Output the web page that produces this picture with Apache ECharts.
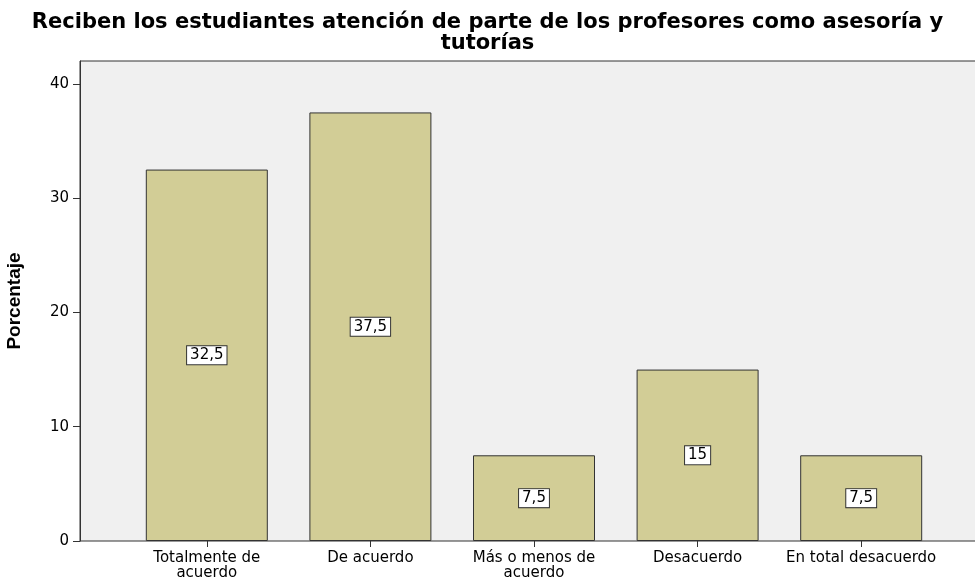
<!DOCTYPE html>
<html>
<head>
<meta charset="utf-8">
<script src="https://cdn.jsdelivr.net/npm/echarts@6/dist/echarts.min.js"></script>
<style>
  html, body { margin: 0; padding: 0; background: #fff; }
  #main { width: 975px; height: 580px; }
</style>
</head>
<body>
<div id="main"></div>
<script>
var categories = ['Totalmente de\nacuerdo', 'De acuerdo', 'Más o menos de\nacuerdo', 'Desacuerdo', 'En total desacuerdo'];
var porcentaje = [32.5, 37.5, 7.5, 15, 7.5];
var yTicks = [0, 10, 20, 30, 40];

var chart = echarts.init(document.getElementById('main'));

function fmt(v) {
    return String(v).replace('.', ',');
}

var option = {
    animation: false,
    backgroundColor: '#ffffff',
    title: {
        text: 'Reciben los estudiantes atención de parte de los profesores como asesoría y\ntutorías',
        left: 'center',
        top: 7,
        textStyle: {
            fontFamily: 'DejaVu Sans',
            fontWeight: 'bold',
            fontSize: 21,
            lineHeight: 21,
            color: '#000'
        }
    },
    grid: [
        {
            left: 80, right: -13, top: 61, bottom: 39,
            outerBoundsMode: 'none',
            show: true,
            backgroundColor: '#f0f0f0',
            borderColor: '#333',
            borderWidth: 1
        },
        {
            left: 125, right: 32, top: 61, bottom: 39,
            outerBoundsMode: 'none'
        }
    ],
    xAxis: [
        { gridIndex: 0, type: 'value', min: 0, max: 1, show: false },
        {
            gridIndex: 1,
            type: 'category',
            data: categories,
            axisLine: { show: false },
            axisTick: { show: true, alignWithLabel: true, length: 6, lineStyle: { color: '#333' } },
            axisLabel: {
                interval: 0,
                margin: 10,
                fontFamily: 'DejaVu Sans',
                fontSize: 15,
                lineHeight: 15,
                color: '#000'
            }
        }
    ],
    yAxis: [
        {
            gridIndex: 0,
            type: 'value',
            min: 0,
            max: 42,
            name: 'Porcentaje',
            nameLocation: 'middle',
            nameGap: 56,
            nameTextStyle: {
                fontFamily: 'Liberation Sans Narrow, Arial',
                fontWeight: 'bold',
                fontSize: 19,
                color: '#000'
            },
            axisLine: { show: true, lineStyle: { color: '#333' } },
            axisTick: { show: true, length: 7, customValues: yTicks, lineStyle: { color: '#333' } },
            axisLabel: {
                customValues: yTicks,
                margin: 11,
                fontFamily: 'DejaVu Sans',
                fontSize: 15,
                color: '#000'
            },
            splitLine: { show: false }
        },
        { gridIndex: 1, type: 'value', min: 0, max: 42, show: false }
    ],
    series: [
        {
            type: 'bar',
            xAxisIndex: 1,
            yAxisIndex: 1,
            data: porcentaje,
            barWidth: 122,
            itemStyle: {
                color: '#d2cd96',
                borderColor: '#333',
                borderWidth: 1
            },
            label: {
                show: true,
                position: 'inside',
                formatter: function (p) { return fmt(p.value); },
                fontFamily: 'DejaVu Sans',
                fontSize: 15,
                color: '#000',
                backgroundColor: '#fff',
                borderColor: '#333',
                borderWidth: 1,
                padding: [2, 3, 1, 3]
            }
        }
    ]
};

chart.setOption(option);
</script>
</body>
</html>
